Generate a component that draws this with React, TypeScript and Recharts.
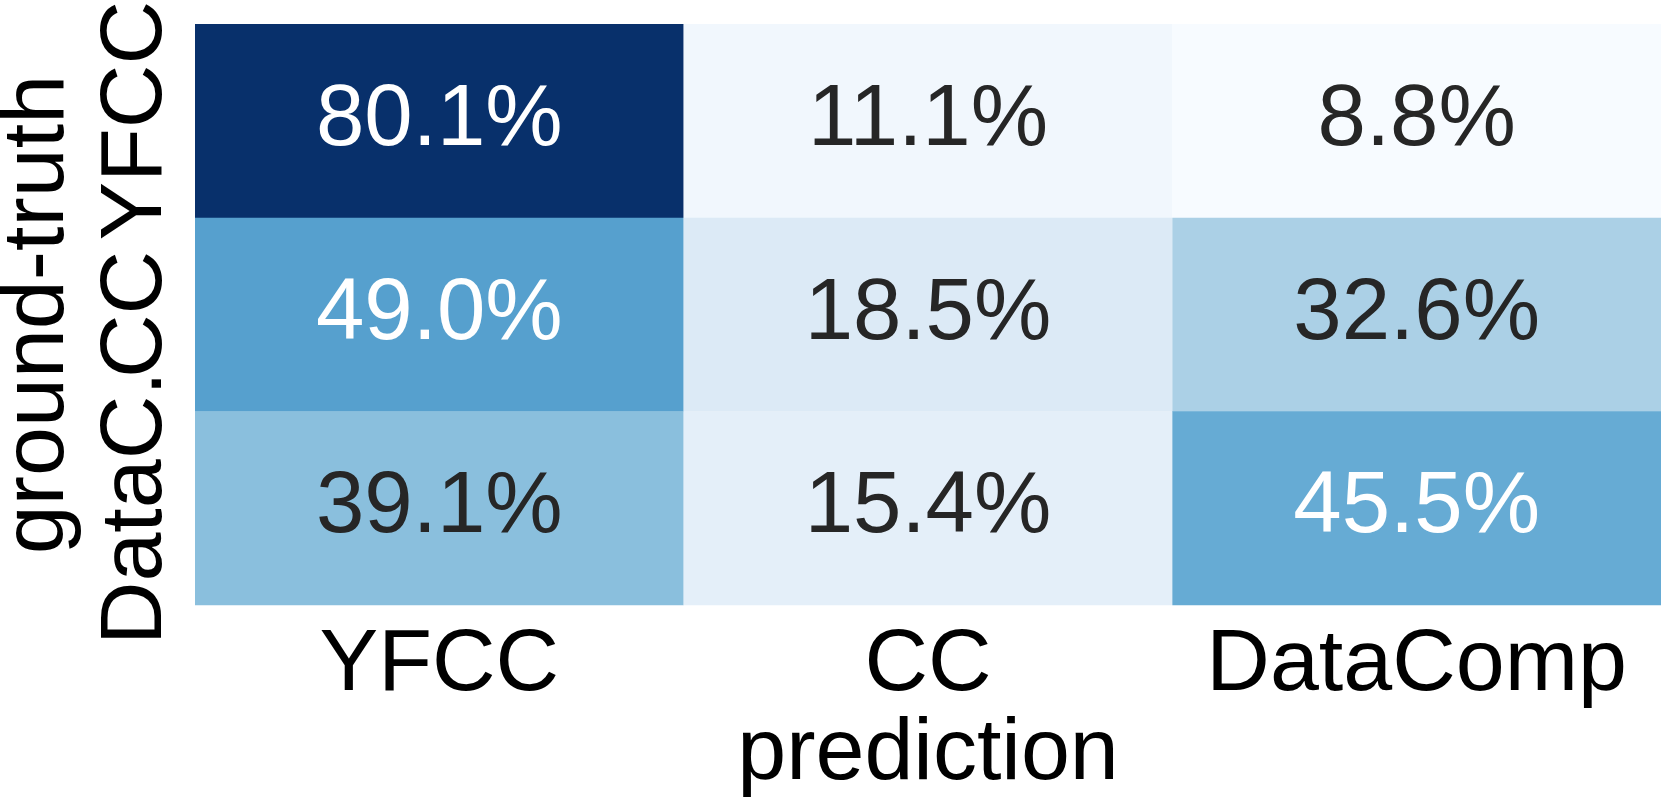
import { BarChart, Bar, XAxis, YAxis, Cell, LabelList } from "recharts";

// confusion matrix: rows = ground truth, columns = prediction
const predictionLabels = ["YFCC", "CC", "DataComp"];
const truthLabels = ["YFCC", "CC", "DataC."];
const yfccRow = [80.1, 11.1, 8.8];
const ccRow = [49.0, 18.5, 32.6];
const dataCompRow = [39.1, 15.4, 45.5];
const matrix = [yfccRow, ccRow, dataCompRow];
const colTicks = [0.5, 1.5, 2.5];

// matplotlib "Blues"
const BLUES = [
  "#f7fbff", "#deebf7", "#c6dbef", "#9ecae1", "#6baed6",
  "#4292c6", "#2171b5", "#08519c", "#08306b",
];

const FONT = "'Liberation Sans', Arial, Helvetica, sans-serif";
const FS = 88;

const all = matrix.flat();
const vmin = Math.min(...all);
const vmax = Math.max(...all);

function hexToRgb(h: string) {
  const n = parseInt(h.slice(1), 16);
  return [(n >> 16) & 255, (n >> 8) & 255, n & 255];
}

function norm(v: number) {
  return (v - vmin) / (vmax - vmin);
}

function blues(v: number): string {
  const t = Math.max(0, Math.min(1, norm(v))) * (BLUES.length - 1);
  const i = Math.min(Math.floor(t), BLUES.length - 2);
  const f = t - i;
  const a = hexToRgb(BLUES[i]);
  const b = hexToRgb(BLUES[i + 1]);
  const c = a.map((x, k) => Math.round(x + (b[k] - x) * f));
  return `rgb(${c[0]},${c[1]},${c[2]})`;
}

const rows = truthLabels.map((truth, i) => ({
  truth,
  c0: 1,
  c1: 1,
  c2: 1,
  v0: matrix[i][0],
  v1: matrix[i][1],
  v2: matrix[i][2],
}));

const CellLabel = (props: any) => {
  const { x, y, width, height, value } = props;
  if (value === undefined) return null;
  const v = Number(value);
  return (
    <text
      x={x + width / 2}
      y={y + height / 2 + 24}
      textAnchor="middle"
      fontFamily={FONT}
      fontSize={87}
      fill={norm(v) > 0.5 ? "#ffffff" : "#262626"}
    >
      {`${v.toFixed(1)}%`}
    </text>
  );
};

const XTick = (props: any) => {
  const { x, y, payload } = props;
  return (
    <text x={x} y={y + 83} textAnchor="middle" fontFamily={FONT} fontSize={FS} fill="#000">
      {predictionLabels[Math.floor(payload.value)]}
    </text>
  );
};

const YTick = (props: any) => {
  const { x, y, payload } = props;
  const bx = x - 32;
  return (
    <text
      x={bx}
      y={y}
      transform={`rotate(-90, ${bx}, ${y})`}
      textAnchor="middle"
      fontFamily={FONT}
      fontSize={FS}
      fill="#000"
    >
      {payload.value}
    </text>
  );
};

export default function App() {
  return (
    <div style={{ position: "absolute", left: 0, top: 0, width: 1661, height: 800, background: "#fff" }}>
      <BarChart
        width={1661}
        height={800}
        data={rows}
        layout="vertical"
        barCategoryGap={0}
        margin={{ top: 24, right: 0, bottom: 0, left: 0 }}
      >
        <XAxis
          type="number"
          domain={[0, 3]}
          ticks={colTicks}
          height={195}
          axisLine={false}
          tickLine={false}
          tickSize={0}
          tick={<XTick />}
          label={{
            content: (p: any) => {
              const vb = p.viewBox || {};
              return (
                <text
                  x={vb.x + vb.width / 2}
                  y={vb.y + 174}
                  textAnchor="middle"
                  fontFamily={FONT}
                  fontSize={FS}
                  fill="#000"
                >
                  prediction
                </text>
              );
            },
          }}
        />
        <YAxis
          type="category"
          dataKey="truth"
          width={195}
          axisLine={false}
          tickLine={false}
          tickSize={0}
          tick={<YTick />}
          label={{
            content: (p: any) => {
              const vb = p.viewBox || {};
              const cy = vb.y + vb.height / 2;
              return (
                <text
                  x={63}
                  y={cy}
                  transform={`rotate(-90, 63, ${cy})`}
                  textAnchor="middle"
                  fontFamily={FONT}
                  fontSize={FS}
                  fill="#000"
                >
                  ground-truth
                </text>
              );
            },
          }}
        />
        {predictionLabels.map((_, j) => (
          <Bar key={j} dataKey={`c${j}`} stackId="grid" isAnimationActive={false}>
            {matrix.map((row, i) => (
              <Cell key={i} fill={blues(row[j])} />
            ))}
            <LabelList dataKey={`v${j}`} content={<CellLabel />} />
          </Bar>
        ))}
      </BarChart>
    </div>
  );
}
